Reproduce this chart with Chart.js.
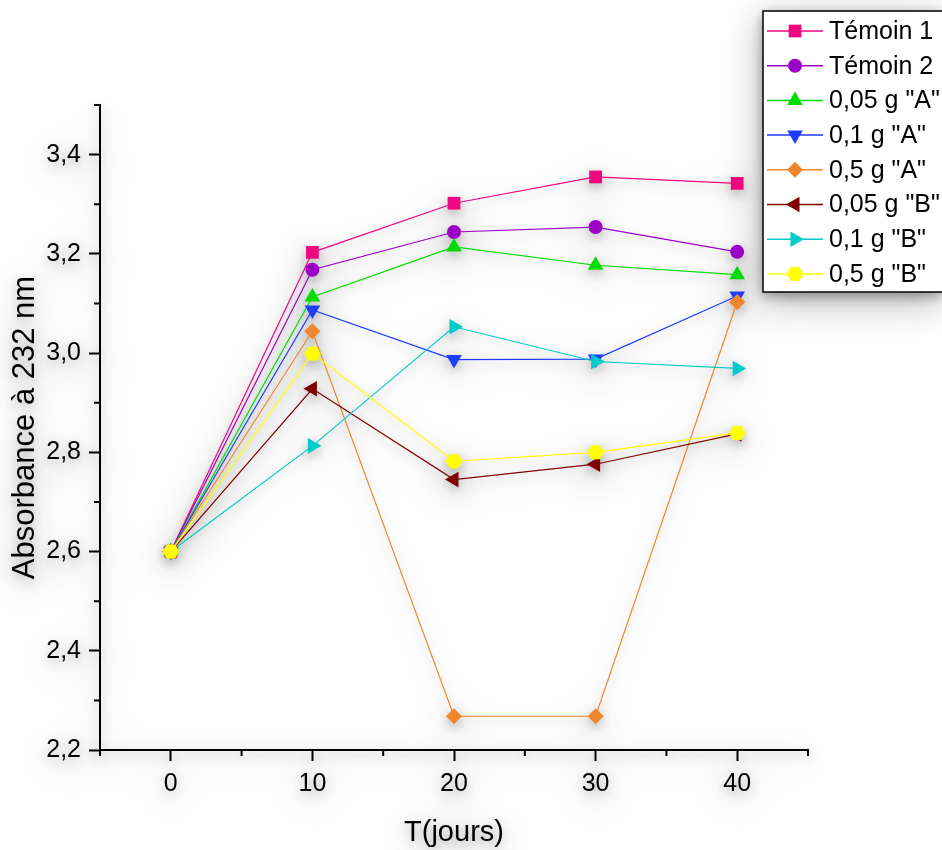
<!DOCTYPE html>
<html>
<head>
<meta charset="utf-8">
<script src="https://cdn.jsdelivr.net/npm/chart.js@4"></script>
<style>
  html, body { margin: 0; padding: 0; background: #fff; }
  #wrap { width: 942px; height: 850px; position: relative; }
  #chart { filter: drop-shadow(0 4px 6px rgba(0,0,0,0.3)) drop-shadow(0 8px 18px rgba(0,0,0,0.3)); }
</style>
</head>
<body>
<div id="wrap"><canvas id="chart" width="942" height="850"></canvas></div>
<script>
const days = [0, 10, 20, 30, 40]

const temoin1 = [2.60, 3.203, 3.302, 3.355, 3.342]
const temoin2 = [2.60, 3.168, 3.244, 3.254, 3.204]
const a005 = [2.60, 3.113, 3.214, 3.177, 3.158]
const a01 = [2.60, 3.087, 2.987, 2.988, 3.115]
const a05 = [2.60, 3.044, 2.268, 2.268, 3.103]
const b005 = [2.60, 2.928, 2.745, 2.776, 2.837]
const b01 = [2.60, 2.813, 3.053, 2.983, 2.969]
const b05 = [2.60, 2.999, 2.782, 2.800, 2.839]

const seriesNames = ['Témoin 1', 'Témoin 2', '0,05 g "A"', '0,1 g "A"', '0,5 g "A"', '0,05 g "B"', '0,1 g "B"', '0,5 g "B"']
const seriesValues = [temoin1, temoin2, a005, a01, a05, b005, b01, b05]
const seriesColors = ['#f0067f', '#9c00c8', '#00dc00', '#1e3cff', '#f0862c', '#800000', '#00caca', '#ffff00']

const FONT = '"Liberation Sans", Arial, sans-serif'

// hexagon marker for the last series
function hexagon(color) {
    const c = document.createElement('canvas')
    c.width = 18
    c.height = 16
    const g = c.getContext('2d')
    g.fillStyle = color
    g.beginPath()
    for (let i = 0; i < 6; i++) {
        const a = Math.PI / 3 * i
        const px = 9 + Math.cos(a) * 8.5
        const py = 8 + Math.sin(a) * 8
        if (i === 0) g.moveTo(px, py); else g.lineTo(px, py)
    }
    g.closePath()
    g.fill()
    return c
}

const markers = [
    { pointStyle: 'rect', radius: 9, rotation: 0 },
    { pointStyle: 'circle', radius: 7, rotation: 0 },
    { pointStyle: 'triangle', radius: 9, rotation: 0 },
    { pointStyle: 'triangle', radius: 9, rotation: 180 },
    { pointStyle: 'rectRot', radius: 8, rotation: 0 },
    { pointStyle: 'triangle', radius: 9, rotation: 270 },
    { pointStyle: 'triangle', radius: 9, rotation: 90 },
    { pointStyle: hexagon(seriesColors[7]), radius: 8, rotation: 0 }
]

const datasets = seriesValues.map((vals, i) => ({
    label: seriesNames[i],
    data: vals.map((v, j) => ({ x: days[j], y: v })),
    borderColor: seriesColors[i],
    backgroundColor: seriesColors[i],
    borderWidth: 1.2,
    pointStyle: markers[i].pointStyle,
    pointRadius: markers[i].radius,
    pointRotation: markers[i].rotation,
    pointBorderWidth: 0,
    pointBackgroundColor: seriesColors[i],
    tension: 0,
    order: seriesValues.length - i
}))

// short minor ticks, the long ones come from the scales' grid
const minorTicks = {
    id: 'minorTicks',
    afterDraw(chart) {
        const ctx = chart.ctx
        const xs = chart.scales.x
        const ys = chart.scales.y
        ctx.save()
        ctx.strokeStyle = '#000'
        ctx.lineWidth = 2
        ctx.beginPath()
        for (let v = -5; v <= 45; v += 10) {
            const px = xs.getPixelForValue(v)
            ctx.moveTo(px, ys.bottom)
            ctx.lineTo(px, ys.bottom + 6)
        }
        for (let k = 23; k <= 35; k += 2) {
            const py = ys.getPixelForValue(k / 10)
            ctx.moveTo(xs.left, py)
            ctx.lineTo(xs.left - 6, py)
        }
        ctx.stroke()
        ctx.restore()
    }
}

const boxLegend = {
    id: 'boxLegend',
    afterDraw(chart) {
        const ctx = chart.ctx
        const left = 763, top = 11, w = 182, h = 281
        ctx.save()
        ctx.fillStyle = '#fff'
        ctx.fillRect(left, top, w, h)
        ctx.strokeStyle = '#000'
        ctx.lineWidth = 1.5
        ctx.strokeRect(left, top, w, h)
        ctx.font = '25px ' + FONT
        ctx.textBaseline = 'middle'
        ctx.textAlign = 'left'
        seriesNames.forEach((name, i) => {
            const y = 31 + i * 34.7
            ctx.strokeStyle = seriesColors[i]
            ctx.lineWidth = 1.5
            ctx.beginPath()
            ctx.moveTo(767, y)
            ctx.lineTo(823, y)
            ctx.stroke()
            ctx.fillStyle = seriesColors[i]
            ctx.strokeStyle = seriesColors[i]
            Chart.helpers.drawPoint(ctx, {
                pointStyle: markers[i].pointStyle,
                radius: markers[i].radius,
                rotation: markers[i].rotation,
                borderWidth: 0
            }, 795, y)
            ctx.fillStyle = '#000'
            ctx.fillText(name, 829, y + 1)
        })
        ctx.restore()
    }
}

new Chart(document.getElementById('chart').getContext('2d'), {
    type: 'line',
    data: { datasets: datasets },
    options: {
        responsive: false,
        animation: false,
        layout: { padding: { top: 105, right: 134, left: 0, bottom: 0 } },
        plugins: {
            legend: { display: false },
            tooltip: { enabled: false }
        },
        scales: {
            x: {
                type: 'linear',
                min: -5,
                max: 45,
                afterFit: scale => { scale.height = 100 },
                border: { color: '#000', width: 2 },
                grid: {
                    drawOnChartArea: false,
                    tickLength: 11,
                    tickWidth: 2,
                    tickColor: c => (c.tick && c.tick.value % 10 === 0) ? '#000' : 'rgba(0,0,0,0)'
                },
                ticks: {
                    stepSize: 5,
                    autoSkip: false,
                    maxRotation: 0,
                    padding: 8,
                    color: '#000',
                    font: { family: FONT, size: 25 },
                    callback: v => (v % 10 === 0) ? String(v) : ''
                },
                title: {
                    display: true,
                    text: 'T(jours)',
                    color: '#000',
                    font: { family: FONT, size: 29 },
                    padding: { top: 0, bottom: 0 }
                }
            },
            y: {
                min: 2.2,
                max: 3.5,
                afterFit: scale => { scale.width = 100 },
                border: { color: '#000', width: 2 },
                grid: {
                    drawOnChartArea: false,
                    tickLength: 11,
                    tickWidth: 2,
                    tickColor: c => (c.tick && Math.round(c.tick.value * 10) % 2 === 0) ? '#000' : 'rgba(0,0,0,0)'
                },
                ticks: {
                    stepSize: 0.1,
                    autoSkip: false,
                    padding: 8,
                    color: '#000',
                    font: { family: FONT, size: 25 },
                    callback: v => {
                        const r = Math.round(v * 10)
                        return r % 2 === 0 ? (r / 10).toFixed(1).replace('.', ',') : ''
                    }
                },
                title: {
                    display: true,
                    text: 'Absorbance à 232 nm',
                    color: '#000',
                    font: { family: FONT, size: 31 },
                    padding: { top: 7, bottom: 0 }
                }
            }
        }
    },
    plugins: [minorTicks, boxLegend]
})
</script>
</body>
</html>
